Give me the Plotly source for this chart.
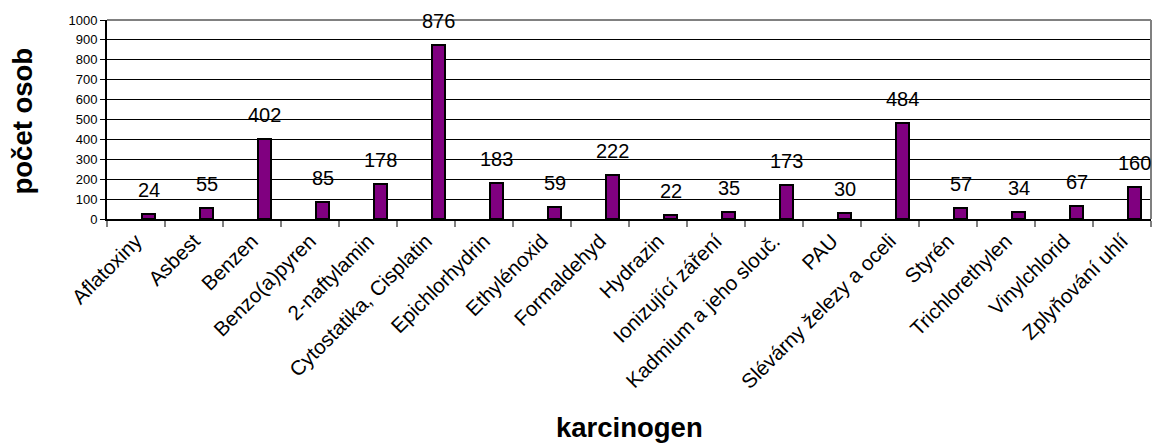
import plotly.graph_objects as go

# Carcinogen exposure: number of persons per carcinogen
karcinogeny = [
    "Aflatoxiny", "Asbest", "Benzen", "Benzo(a)pyren", "2-naftylamin",
    "Cytostatika, Cisplatin", "Epichlorhydrin", "Ethylénoxid", "Formaldehyd",
    "Hydrazin", "Ionizující záření", "Kadmium a jeho slouč.", "PAU",
    "Slévárny železy a oceli", "Styrén", "Trichlorethylen", "Vinylchlorid",
    "Zplyňování uhlí",
]
pocet_osob = [24, 55, 402, 85, 178, 876, 183, 59, 222, 22, 35, 173, 30, 484, 57, 34, 67, 160]
y_ticks = list(range(0, 1001, 100))

FONT = "Arial, 'Liberation Sans', sans-serif"
BAR_OFFSET = 0.11
BAR_WIDTH = 0.225

fig = go.Figure()
fig.add_trace(go.Bar(
    x=karcinogeny,
    y=pocet_osob,
    offset=BAR_OFFSET,
    width=BAR_WIDTH,
    marker=dict(color="#800080", line=dict(color="#000000", width=2)),
    hoverinfo="x+y",
))

annotations = []
for i, v in enumerate(pocet_osob):
    annotations.append(dict(
        x=i + BAR_OFFSET + BAR_WIDTH / 2, y=v, xref="x", yref="y",
        text=str(v), showarrow=False, yanchor="middle", yshift=24,
        font=dict(family=FONT, size=20, color="#000000"),
    ))

# axis titles
annotations.append(dict(
    x=-0.0814, y=0.49, xref="paper", yref="paper", text="<b>počet osob</b>",
    textangle=-90, showarrow=False, xanchor="center", yanchor="middle",
    font=dict(family=FONT, size=27.5, color="#000000"),
))
annotations.append(dict(
    x=0.5, y=-1.05, xref="paper", yref="paper", text="<b>karcinogen</b>",
    showarrow=False, xanchor="center", yanchor="middle",
    font=dict(family=FONT, size=27.5, color="#000000"),
))

fig.update_layout(
    width=1153, height=446,
    margin=dict(l=107, r=2, t=20, b=227, autoexpand=False),
    paper_bgcolor="white", plot_bgcolor="white",
    showlegend=False,
    bargap=0,
    annotations=annotations,
    font=dict(family=FONT, color="#000000"),
    shapes=[
        dict(type="line", xref="paper", yref="paper", x0=0, x1=1, y0=1, y1=1,
             line=dict(color="#808080", width=2), layer="above"),
        dict(type="line", xref="paper", yref="paper", x0=1, x1=1, y0=0, y1=1,
             line=dict(color="#808080", width=2), layer="above"),
    ],
)

fig.update_xaxes(
    type="category",
    tickson="boundaries",
    ticks="outside", ticklen=6, tickcolor="#808080", tickwidth=2,
    tickangle=-45,
    tickfont=dict(family=FONT, size=20.5, color="#000000"),
    showline=True, linecolor="#000000", linewidth=2,
    showgrid=False,
    range=[-0.5, len(karcinogeny) - 0.5],
)

fig.update_yaxes(
    range=[0, 1000],
    tickvals=y_ticks,
    ticks="outside", ticklen=5, tickcolor="#000000",
    tickfont=dict(family=FONT, size=13, color="#000000"),
    showline=True, linecolor="#000000", linewidth=2,
    showgrid=True, gridcolor="#000000", gridwidth=1,
    zeroline=False,
)

fig.write_html("out.html")
